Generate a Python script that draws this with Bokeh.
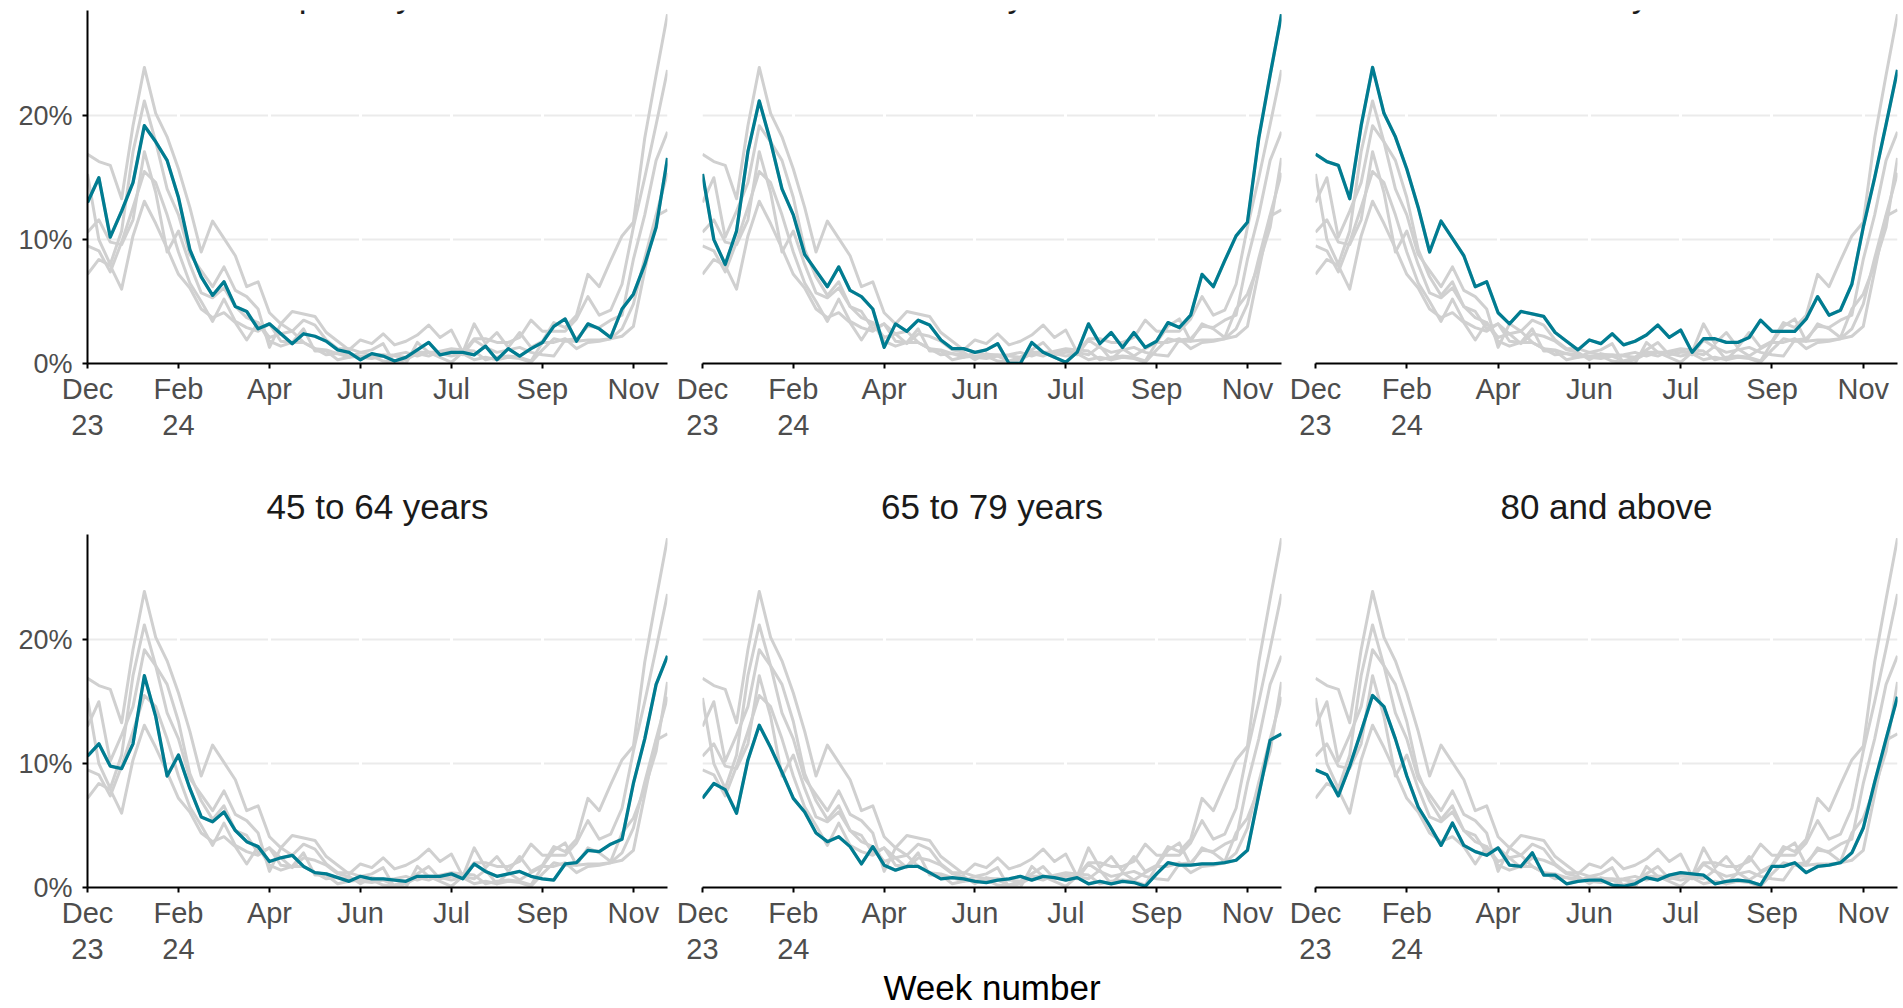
from bokeh.plotting import figure
from bokeh.layouts import column, row
from bokeh.models import FixedTicker, Range1d, Label, Grid
from bokeh.embed import file_html
from bokeh.resources import INLINE

weeks = list(range(52))
tick_weeks = [0, 8, 16, 24, 32, 40, 48]
tick_labels = ["Dec\n23", "Feb\n24", "Apr", "Jun", "Jul", "Sep", "Nov"]
y_ticks = [0, 10, 20]
y_tick_labels = ["0%", "10%", "20%"]

age_groups = ["Up to 4 years", "5 to 14 years", "15 to 44 years",
              "45 to 64 years", "65 to 79 years", "80 and above"]

s_0_4 = [13.0, 15.0, 10.2, 12.3, 14.6, 19.2, 17.9, 16.4, 13.4, 9.2,
         7.0, 5.5, 6.6, 4.6, 4.2, 2.8, 3.2, 2.4, 1.6, 2.4,
         2.2, 1.8, 1.1, 0.9, 0.3, 0.8, 0.6, 0.2, 0.5, 1.1,
         1.7, 0.7, 0.9, 0.9, 0.7, 1.4, 0.3, 1.2, 0.6, 1.2,
         1.7, 3.0, 3.6, 1.8, 3.2, 2.8, 2.1, 4.4, 5.6, 8.0,
         11.0, 16.6]
s_5_14 = [15.3, 10.0, 8.0, 10.7, 17.1, 21.2, 17.9, 14.1, 12.0, 8.8,
          7.5, 6.2, 7.8, 5.9, 5.4, 4.4, 1.3, 3.2, 2.6, 3.5,
          3.1, 1.9, 1.2, 1.2, 0.9, 1.1, 1.6, 0.0, 0.0, 1.7,
          0.9, 0.5, 0.1, 0.9, 3.2, 1.6, 2.5, 1.3, 2.5, 1.3,
          1.8, 3.3, 2.9, 3.9, 7.2, 6.2, 8.3, 10.3, 11.4, 18.2,
          23.3, 28.2]
s_15_44 = [16.9, 16.3, 16.0, 13.3, 19.2, 23.9, 20.2, 18.3, 15.7, 12.6,
           9.0, 11.5, 10.1, 8.7, 6.2, 6.6, 4.1, 3.2, 4.2, 4.0,
           3.8, 2.5, 1.8, 1.1, 1.9, 1.6, 2.4, 1.5, 1.8, 2.3,
           3.1, 2.1, 2.7, 0.9, 2.0, 2.0, 1.7, 1.7, 2.1, 3.5,
           2.6, 2.6, 2.6, 3.6, 5.4, 3.9, 4.3, 6.4, 11.0, 15.0,
           19.3, 23.7]
s_45_64 = [10.6, 11.6, 9.8, 9.6, 11.6, 17.1, 13.8, 9.0, 10.7, 8.0,
           5.7, 5.3, 6.1, 4.6, 3.7, 3.3, 2.1, 2.4, 2.6, 1.7,
           1.2, 1.1, 0.8, 0.5, 0.9, 0.7, 0.7, 0.6, 0.5, 0.9,
           0.9, 0.9, 1.1, 0.7, 1.9, 1.3, 0.9, 1.1, 1.3, 0.9,
           0.7, 0.6, 1.9, 2.0, 3.0, 2.9, 3.5, 3.9, 8.4, 12.0,
           16.4, 18.7]
s_65_79 = [7.2, 8.4, 7.9, 6.0, 10.3, 13.1, 11.3, 9.3, 7.2, 6.1,
           4.4, 3.7, 4.1, 3.3, 1.9, 3.3, 1.8, 1.4, 1.7, 1.7,
           1.2, 0.7, 0.8, 0.7, 0.5, 0.4, 0.6, 0.7, 0.9, 0.6,
           0.9, 0.8, 0.6, 0.8, 0.3, 0.5, 0.3, 0.5, 0.4, 0.1,
           1.1, 2.0, 1.8, 1.8, 1.9, 1.9, 2.0, 2.2, 3.0, 7.5,
           11.9, 12.4]
s_80_plus = [9.5, 9.1, 7.4, 9.8, 12.6, 15.5, 14.6, 12.0, 9.0, 6.5,
             5.0, 3.4, 5.2, 3.4, 2.9, 2.6, 3.2, 1.8, 1.7, 2.8,
             1.0, 1.0, 0.3, 0.5, 0.6, 0.6, 0.2, 0.1, 0.3, 0.8,
             0.6, 1.0, 1.2, 1.1, 1.0, 0.3, 0.5, 0.6, 0.5, 0.2,
             1.7, 1.7, 2.0, 1.2, 1.7, 1.8, 2.0, 2.8, 4.8, 8.5,
             12.0, 15.4]

all_series = [s_0_4, s_5_14, s_15_44, s_45_64, s_65_79, s_80_plus]

FONT = "Liberation Sans"
TEAL = "#007C91"
GREY = "#d0d0d0"
Y_MAX = 28.5


def make_panel(idx, left, fw, right, top, fh, bottom, show_y, top_row, xlabel=None):
    p = figure(frame_width=fw, frame_height=fh,
               min_border_left=left, min_border_right=right,
               min_border_top=top, min_border_bottom=bottom,
               x_range=Range1d(0, 51), y_range=Range1d(0, Y_MAX),
               y_axis_location="left" if show_y else None,
               output_backend="svg", toolbar_location=None)
    p.outline_line_color = None
    p.background_fill_color = "white"
    p.border_fill_color = "white"
    for g in p.grid:
        g.visible = False
    yg = Grid(dimension=1, ticker=FixedTicker(ticks=[10, 20]),
              grid_line_color="#ebebeb", grid_line_width=2)
    xg = Grid(dimension=0, ticker=FixedTicker(ticks=tick_weeks),
              grid_line_color="white", grid_line_width=3)
    p.add_layout(yg)
    p.add_layout(xg)

    xa = p.xaxis[0]
    xa.ticker = FixedTicker(ticks=tick_weeks)
    xa.major_label_overrides = {w: l for w, l in zip(tick_weeks, tick_labels)}
    xa.axis_line_color = "black"
    xa.axis_line_width = 2
    xa.major_tick_line_color = "black"
    xa.major_tick_line_width = 2
    xa.major_tick_in = 0
    xa.major_tick_out = 5
    xa.minor_tick_line_color = None
    xa.major_label_text_font = FONT
    xa.major_label_text_font_size = "29px"
    xa.major_label_text_color = "#4d4d4d"
    xa.major_label_text_line_height = 1.15
    xa.major_label_standoff = 4
    if xlabel:
        xa.axis_label = xlabel
        xa.axis_label_text_font = FONT
        xa.axis_label_text_font_size = "35px"
        xa.axis_label_text_font_style = "normal"
        xa.axis_label_text_color = "black"
        xa.axis_label_standoff = 0

    if show_y:
        ya = p.yaxis[0]
        ya.ticker = FixedTicker(ticks=y_ticks)
        ya.major_label_overrides = {t: l for t, l in zip(y_ticks, y_tick_labels)}
        ya.axis_line_color = "black"
        ya.axis_line_width = 2
        ya.major_tick_line_color = "black"
        ya.major_tick_line_width = 2
        ya.major_tick_in = 0
        ya.major_tick_out = 5
        ya.minor_tick_line_color = None
        ya.major_label_text_font = FONT
        ya.major_label_text_font_size = "27px"
        ya.major_label_text_color = "#4d4d4d"
        ya.major_label_standoff = 10

    for s in all_series:
        p.line(weeks, s, line_color=GREY, line_width=3, line_join="round")
    p.line(weeks, all_series[idx], line_color=TEAL, line_width=3.3, line_join="round")

    if top_row:
        lab = Label(x=25.5, y=Y_MAX + 16 * Y_MAX / fh, text=age_groups[idx],
                    text_align="center", text_baseline="alphabetic",
                    text_font=FONT, text_font_size="35px", text_color="#1a1a1a")
        p.add_layout(lab)
    else:
        p.title.text = age_groups[idx]
        p.title.align = "center"
        p.title.text_font = FONT
        p.title.text_font_size = "35px"
        p.title.text_font_style = "normal"
        p.title.text_color = "#1a1a1a"
        p.title.standoff = 17
    return p


FH = 353
f1 = make_panel(0, 87, 580, 6, 10, FH, 107, True, True)
f2 = make_panel(1, 29, 579, 6, 10, FH, 107, False, True)
f3 = make_panel(2, 28, 582, 6, 10, FH, 107, False, True)
f4 = make_panel(3, 87, 580, 6, 64, FH, 115, True, False)
f5 = make_panel(4, 29, 579, 6, 64, FH, 115, False, False, xlabel="Week number")
f6 = make_panel(5, 28, 582, 6, 64, FH, 115, False, False)

layout = column(row(f1, f2, f3), row(f4, f5, f6))
open("out.html", "w").write(file_html(layout, INLINE))
